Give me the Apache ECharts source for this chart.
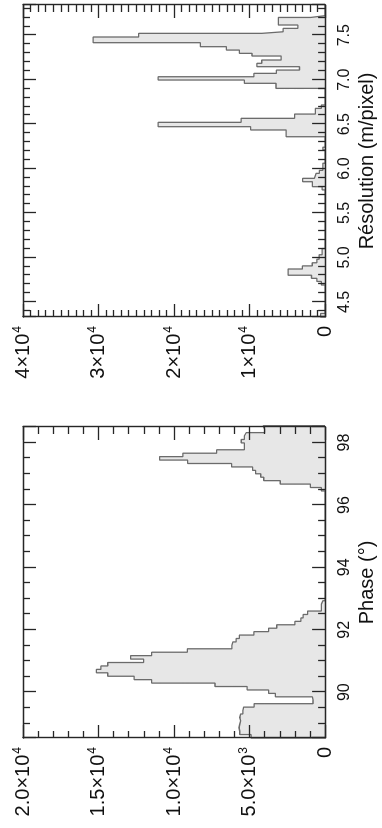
<!DOCTYPE html>
<html>
<head>
<meta charset="utf-8">
<script src="https://cdn.jsdelivr.net/npm/echarts@6/dist/echarts.min.js"></script>
<style>
  html, body { margin: 0; padding: 0; background: #fff; overflow: hidden; width: 382px; height: 828px; }
  #wrap { position: absolute; left: 0; top: 0; width: 828px; height: 382px;
          transform-origin: 0 0; transform: translate(0px, 828px) rotate(-90deg); }
  #chart { width: 828px; height: 382px; }
</style>
</head>
<body>
<div id="wrap"><div id="chart"></div></div>
<script>
// ---------------- data ----------------
// Phase histogram: uniform bins
const phaseBinStart = 88.53;
const phaseBinWidth = 0.11;
const phaseCounts = [
  4900, 5650, 5700, 5650, 5600, 5650, 5600, 5450, 5400, 4700,
  800, 850, 3290, 3740, 5160, 7290, 11480, 12640, 14390, 15140,
  14840, 14390, 12020, 12880, 11480, 9120, 6170, 6110, 5890, 5680,
  4710, 3740, 3200, 2000, 1600, 1450, 1160, 250, 250, 150,
  0, 0, 0, 0, 0, 0, 0, 0, 0, 0,
  0, 0, 0, 0, 0, 0, 0, 0, 0, 0,
  0, 0, 0, 0, 0, 0, 0, 0, 0, 0,
  0, 0, 250, 970, 2970, 4060, 4260, 4600, 4800, 6190,
  9100, 10960, 9420, 7180, 5350, 5350, 5550, 5350, 5220, 4000,
  4100
];
// Resolution histogram: step left edges and counts
const resEdges = [4.33, 4.37, 4.69, 4.73, 4.765, 4.80, 4.87, 4.905, 4.94, 4.98, 5.03, 5.10,
  5.76, 5.796, 5.852, 5.89, 5.908, 5.946, 5.98, 6.06, 6.21, 6.24,
  6.358, 6.434, 6.471, 6.52, 6.565, 6.613, 6.677, 6.715,
  6.902, 6.959, 6.996, 7.033, 7.071, 7.108, 7.146, 7.184, 7.221, 7.266, 7.296, 7.333, 7.371,
  7.416, 7.48, 7.521, 7.539, 7.577, 7.615, 7.70, 7.72];
const resCounts = [600, 0, 500, 1100, 1800, 4900, 3000, 1700, 1100, 800, 390, 0,
  390, 1680, 2970, 1420, 1200, 770, 300, 0, 300, 0,
  5160, 9850, 22100, 11130, 4040, 1290, 500, 0,
  6500, 10700, 22100, 9420, 6450, 3390, 9030, 8390, 5810, 9680, 11350, 13070, 16520,
  30710, 24680, 8390, 5550, 3610, 6190, 1900, 0];
const resEnd = 7.84;

// axes ranges and tick labels
const phaseMin = 88.53, phaseMax = 98.5;
const resMin = 4.33, resMax = 7.84;
const phaseTicks = [90, 92, 94, 96, 98];
const phaseTickLabels = ['90', '92', '94', '96', '98'];
const resTicks = [4.5, 5.0, 5.5, 6.0, 6.5, 7.0, 7.5];
const resTickLabels = ['4.5', '5.0', '5.5', '6.0', '6.5', '7.0', '7.5'];
const phaseCountTicks = [0, 5000, 10000, 15000, 20000];
const phaseCountLabels = ['0', '5.0×10^3', '1.0×10^4', '1.5×10^4', '2.0×10^4'];
const resCountTicks = [0, 10000, 20000, 30000, 40000];
const resCountLabels = ['0', '1×10^4', '2×10^4', '3×10^4', '4×10^4'];

// ---------------- build step data ----------------
function stepFromUniform(start, width, counts) {
  const d = [[start, 0]];
  counts.forEach((c, i) => d.push([+(start + i * width).toFixed(4), c]));
  d.push([+(start + counts.length * width).toFixed(4), 0]);
  return d;
}
function stepFromEdges(edges, counts, end) {
  const d = [[edges[0], 0]];
  edges.forEach((e, i) => d.push([e, counts[i]]));
  d.push([end, 0]);
  return d;
}
const phaseData = stepFromUniform(phaseBinStart, phaseBinWidth, phaseCounts);
const resData = stepFromEdges(resEdges, resCounts, resEnd);

// ---------------- styling ----------------
const FONT = 'Liberation Sans, Arial, Helvetica, sans-serif';
const AX = '#262626';
function matchLabel(ticks, labels) {
  return function (v) {
    for (let i = 0; i < ticks.length; i++) if (Math.abs(ticks[i] - v) < 1e-6) return labels[i];
    return '';
  };
}
function sciLabel(ticks, labels) {
  return function (v) {
    for (let i = 0; i < ticks.length; i++) {
      if (Math.abs(ticks[i] - v) < 1e-6) {
        const p = labels[i].split('^');
        return p.length > 1 ? '{b|' + p[0] + '}{s|' + p[1] + '}' : '{b|' + p[0] + '}';
      }
    }
    return '';
  };
}
const rich = {
  b: { fontSize: 20, fontFamily: FONT, color: '#111', lineHeight: 23 },
  s: { fontSize: 12, fontFamily: FONT, color: '#111', lineHeight: 12, verticalAlign: 'top', padding: [0, 0, 0, 1] }
};
function tickCfg(minorSplit) {
  return {
    axisLine: { show: true, onZero: false, lineStyle: { color: AX, width: 1.4 } },
    axisTick: { show: true, inside: true, length: 13, lineStyle: { color: AX, width: 1.3 } },
    minorTick: { show: true, splitNumber: minorSplit, length: 7, lineStyle: { color: AX, width: 1.3 } },
    splitLine: { show: false },
    minorSplitLine: { show: false },
    z: 5
  };
}
function xAx(grid, pos, min, max, split, minorSplit, name, ticks, labels, showLabel) {
  return Object.assign({
    gridIndex: grid, type: 'value', position: pos, min: min, max: max, splitNumber: split,
    name: showLabel ? name : '', nameLocation: 'middle', nameGap: 26,
    nameTextStyle: { fontSize: 20, fontFamily: FONT, color: '#111' },
    axisLabel: { show: showLabel, margin: 11, fontSize: 16, fontFamily: FONT, color: '#111',
      formatter: matchLabel(ticks, labels), showMinLabel: true, showMaxLabel: true }
  }, tickCfg(minorSplit));
}
function yAx(grid, pos, max, interval, minorSplit, ticks, labels, showLabel) {
  return Object.assign({
    gridIndex: grid, type: 'value', position: pos, min: 0, max: max, interval: interval,
    axisLabel: { show: showLabel, margin: 9, formatter: sciLabel(ticks, labels), rich: rich }
  }, tickCfg(minorSplit));
}

const option = {
  animation: false,
  backgroundColor: '#fff',
  textStyle: { fontFamily: FONT },
  grid: [
    { left: 90, top: 23, width: 311, height: 310 },
    { left: 511, top: 23, width: 312, height: 310 }
  ],
  xAxis: [
    xAx(0, 'bottom', phaseMin, phaseMax, 5, 4, 'Phase (°)', phaseTicks, phaseTickLabels, true),
    xAx(0, 'top', phaseMin, phaseMax, 5, 4, '', phaseTicks, phaseTickLabels, false),
    xAx(1, 'bottom', resMin, resMax, 7, 5, 'Résolution (m/pixel)', resTicks, resTickLabels, true),
    xAx(1, 'top', resMin, resMax, 7, 5, '', resTicks, resTickLabels, false)
  ],
  yAxis: [
    yAx(0, 'left', 20000, 5000, 5, phaseCountTicks, phaseCountLabels, true),
    yAx(0, 'right', 20000, 5000, 5, phaseCountTicks, phaseCountLabels, false),
    yAx(1, 'left', 40000, 10000, 10, resCountTicks, resCountLabels, true),
    yAx(1, 'right', 40000, 10000, 10, resCountTicks, resCountLabels, false)
  ],
  series: [
    { type: 'line', xAxisIndex: 0, yAxisIndex: 0, step: 'end', symbol: 'none', showSymbol: false,
      data: phaseData, z: 1, clip: true,
      lineStyle: { color: '#6b6b6b', width: 1.3 }, areaStyle: { color: '#e7e7e7', opacity: 1 } },
    { type: 'line', xAxisIndex: 2, yAxisIndex: 2, step: 'end', symbol: 'none', showSymbol: false,
      data: resData, z: 1, clip: true,
      lineStyle: { color: '#6b6b6b', width: 1.3 }, areaStyle: { color: '#e7e7e7', opacity: 1 } }
  ]
};
const chart = echarts.init(document.getElementById('chart'), null, { renderer: 'canvas' });
chart.setOption(option);
</script>
</body>
</html>
